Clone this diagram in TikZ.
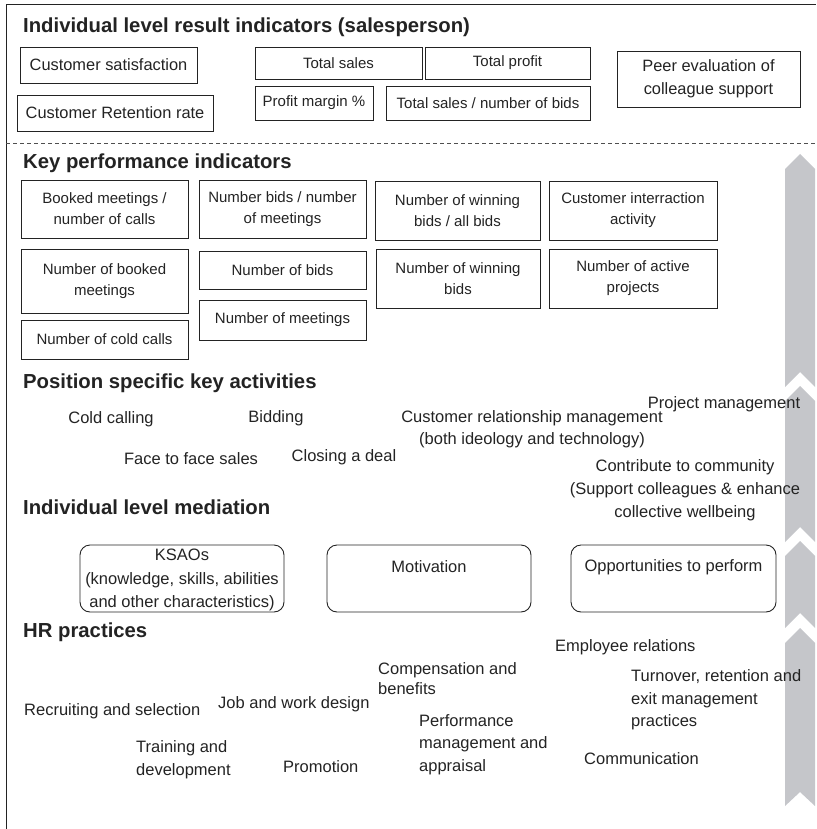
\documentclass[tikz,border=0pt]{standalone}
\usepackage{fontspec}
\setmainfont{Liberation Sans}
\definecolor{chevgrey}{RGB}{197,198,202}
\definecolor{ink}{RGB}{35,35,35}
\begin{document}
\begin{tikzpicture}[x=1pt,y=-1pt,
  box/.style={draw=ink, line width=0.9pt, inner sep=0pt, align=center, text=ink, font=\fontsize{15}{21}\selectfont},
  bigbox/.style={box, font=\fontsize{16.4}{23}\selectfont},
  rbox/.style={draw=ink, line width=0.9pt, inner sep=0pt, rounded corners=10pt},
  head/.style={anchor=west, inner sep=0pt, text=ink, font=\bfseries\fontsize{20.3}{24}\selectfont},
  lbl/.style={inner sep=0pt, align=center, text=ink, font=\fontsize{16.5}{22}\selectfont},
  lbll/.style={inner sep=0pt, align=left, anchor=west, text=ink, font=\fontsize{16.5}{22}\selectfont},
  chev/.style={fill=chevgrey, draw=none}]
\useasboundingbox (0,0) rectangle (816,829);
% frame
\draw[ink, line width=1pt] (6,829) -- (6,5) -- (816,5);
\draw[ink!80, line width=0.8pt, dash pattern=on 4pt off 3pt] (6,143) -- (816,143);

% chevron arrow
\fill[chev] (785,169) -- (800,154) -- (815,169) -- (815,387) -- (800,372) -- (785,387) -- cycle;
\fill[chev] (785,401) -- (800,386) -- (815,401) -- (815,542) -- (800,527) -- (785,542) -- cycle;
\fill[chev] (785,556) -- (800,541) -- (815,556) -- (815,628) -- (800,613) -- (785,628) -- cycle;
\fill[chev] (785,643) -- (800,628) -- (815,643) -- (815,806) -- (800,792) -- (785,806) -- cycle;

% result indicators
\node[head] (h1) at (23,27) {Individual level result indicators (salesperson)};
\node[bigbox, minimum width=177pt, minimum height=36pt] (cs) at (108.5,65) {Customer satisfaction};
\node[bigbox, minimum width=196pt, minimum height=36pt] (crr) at (115,113) {Customer Retention rate};
\node[box, minimum width=167pt, minimum height=32pt] (ts) at (338.5,63) {Total sales};
\node[box, minimum width=165pt, minimum height=32pt] (tp) at (507.5,63) {Total profit};
\node[box, minimum width=118pt, minimum height=34pt] (pm) at (314,103) {Profit margin \%};
\node[box, minimum width=204pt, minimum height=34pt] (tsb) at (488,103) {Total sales / number of bids};
\node[bigbox, minimum width=183pt, minimum height=56pt] (peer) at (708.5,79) {Peer evaluation of\\colleague support};

% KPIs
\node[head] (h2) at (23,163) {Key performance indicators};
\node[box, minimum width=167pt, minimum height=58pt] (k1) at (104.5,209) {Booked meetings /\\number of calls};
\node[box, minimum width=167pt, minimum height=58pt] (k2) at (282.5,209) {Number bids / number\\of meetings};
\node[box, minimum width=165pt, minimum height=59pt] (k3) at (457.5,210.5) {Number of winning\\bids / all bids};
\node[box, minimum width=168pt, minimum height=59pt] (k4) at (633,210.5) {Customer interraction\\activity};
\node[box, minimum width=167pt, minimum height=64pt] (k5) at (104.5,281) {Number of booked\\meetings};
\node[box, minimum width=167pt, minimum height=38pt] (k6) at (282.5,270) {Number of bids};
\node[box, minimum width=164pt, minimum height=59pt] (k7) at (458,278.5) {Number of winning\\bids};
\node[box, minimum width=168pt, minimum height=59pt] (k8) at (633,278.5) {Number of active\\projects};
\node[box, minimum width=167pt, minimum height=40pt] (k9) at (282.5,320) {Number of meetings};
\node[box, minimum width=167pt, minimum height=39pt] (k10) at (104.5,339.5) {Number of cold calls};

% activities
\node[head] (h3) at (23,383) {Position specific key activities};
\node[lbl] (a1) at (111,419) {Cold calling};
\node[lbl] (a2) at (276,418) {Bidding};
\node[lbl] (a3) at (532,429) {Customer relationship management\\(both ideology and technology)};
\node[lbl] (a4) at (724,404) {Project management};
\node[lbl] (a5) at (191,459) {Face to face sales};
\node[lbl] (a6) at (344,457) {Closing a deal};
\node[lbl, font=\fontsize{16.5}{23}\selectfont] (a7) at (685,490) {Contribute to community\\(Support colleagues \& enhance\\collective wellbeing};

% mediation
\node[head] (h4) at (23,507) {Individual level mediation};
\node[rbox, minimum width=204pt, minimum height=67pt] (m1) at (182,578.5) {};
\node[rbox, minimum width=204pt, minimum height=67pt] (m2) at (429,578.5) {};
\node[rbox, minimum width=205pt, minimum height=67pt] (m3) at (673.5,578.5) {};
\node[lbl, font=\fontsize{16.5}{23.5}\selectfont] (m1t) at (182,580) {KSAOs\\(knowledge, skills, abilities\\and other characteristics)};
\node[lbl] (m2t) at (429,567) {Motivation};
\node[lbl] (m3t) at (673.5,567) {Opportunities to perform};

% HR practices
\node[head] (h5) at (23,632) {HR practices};
\node[lbll] (r1) at (555,647) {Employee relations};
\node[lbll, font=\fontsize{16.5}{20}\selectfont] (r2) at (378,679) {Compensation and\\benefits};
\node[lbll, font=\fontsize{16.5}{22.5}\selectfont] (r3) at (631,700) {Turnover, retention and\\exit management\\practices};
\node[lbll] (r4) at (24,711) {Recruiting and selection};
\node[lbll] (r5) at (218,704) {Job and work design};
\node[lbll, font=\fontsize{16.5}{22.5}\selectfont] (r6) at (419,744.5) {Performance\\management and\\appraisal};
\node[lbll, font=\fontsize{16.5}{23}\selectfont] (r7) at (136,759.5) {Training and\\development};
\node[lbll] (r8) at (283,767) {Promotion};
\node[lbll] (r9) at (584,759) {Communication};
\end{tikzpicture}
\end{document}
